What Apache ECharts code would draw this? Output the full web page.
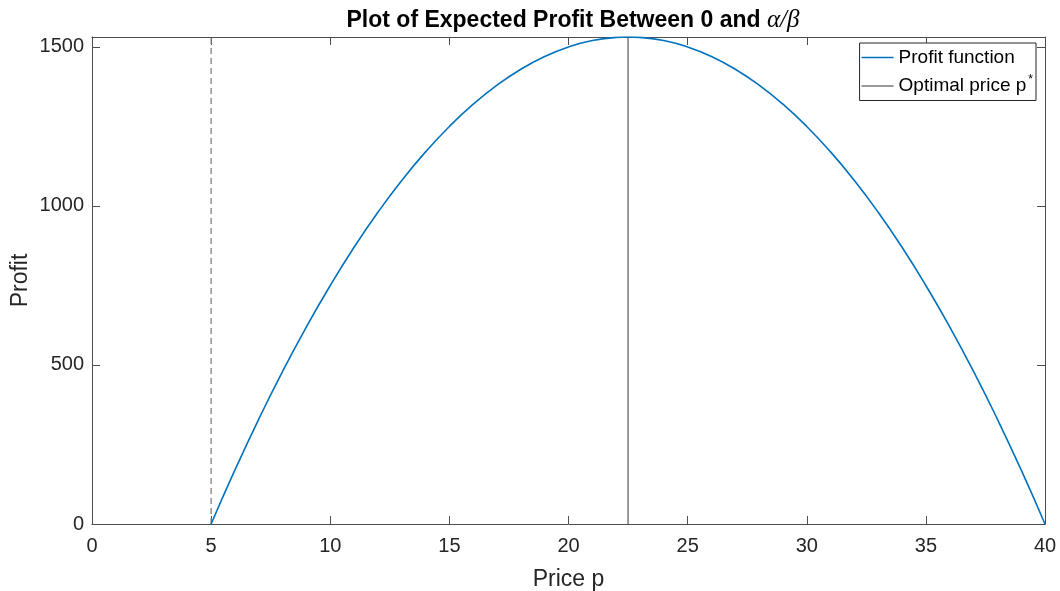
<!DOCTYPE html>
<html><head><meta charset="utf-8">
<script src="https://cdn.jsdelivr.net/npm/echarts@6/dist/echarts.min.js"></script>
<style>html,body{margin:0;padding:0;background:#fff}#c{width:1060px;height:591px}</style>
</head><body><div id="c"></div>
<script>
// Data
const prices  = [5,6,7,8,9,10,11,12,13,14,15,16,17,18,19,20,21,22,22.5,23,24,25,26,27,28,29,30,31,32,33,34,35,36,37,38,39,40];
const profits = [0,170,330,480,620,750,870,980,1080,1170,1250,1320,1380,1430,1470,1500,1520,1530,1531.25,1530,1520,1500,1470,1430,1380,1320,1250,1170,1080,980,870,750,620,480,330,170,0];
const optimalLineX = [22.5, 22.5];
const optimalLineY = [0, 1531.25];
const costLineX = [5, 5];
const costLineY = [0, 1531.25];
const xTicks = [0,5,10,15,20,25,30,35,40];
const yTicks = [0,500,1000,1500];
const seriesNames = ['Profit function', 'Optimal price p*'];

const FONT = '"Liberation Sans", Arial, Helvetica, sans-serif';
const AX = '#4d4d4d';
const TXT = '#262626';
const xMin = 0, xMax = 40, yMin = 0, yMax = 1531.25;

function axisBase(extra){
  return Object.assign({
    type:'value',
    axisLine:{show:true, onZero:false, lineStyle:{color:AX, width:1}},
    axisTick:{show:true, inside:true, length:8, lineStyle:{color:AX, width:1}},
    splitLine:{show:false}
  }, extra);
}

const chart = echarts.init(document.getElementById('c'), null, {renderer:'canvas'});
chart.setOption({
  animation:false,
  backgroundColor:'#fff',
  textStyle:{fontFamily:FONT},
  title:{
    text:'{b|Plot of Expected Profit Between 0 and }{m|α/β}',
    left:568, top:3, textAlign:'center',
    textStyle:{rich:{
      b:{fontFamily:FONT, fontWeight:'bold', fontSize:23, color:'#000'},
      m:{fontFamily:'"Liberation Serif","DejaVu Serif",serif', fontStyle:'italic', fontWeight:'normal', fontSize:25, color:'#000'}
    }}
  },
  grid:{left:92, right:15, top:37, bottom:67, containLabel:false, outerBoundsMode:'none'},
  legend:{
    orient:'vertical', right:24, top:43,
    data:seriesNames,
    icon:'rect', itemWidth:32, itemHeight:1.5, itemGap:7,
    padding:[5,3,5,2],
    borderColor:'#262626', borderWidth:1, backgroundColor:'#fff',
    formatter: n => n === 'Optimal price p*' ? '{t|Optimal price p}{s|*}' : '{t|' + n + '}',
    textStyle:{rich:{
      t:{fontFamily:FONT, fontSize:19, color:'#000', height:22},
      s:{fontFamily:FONT, fontSize:12, color:'#000', verticalAlign:'top', padding:[0,0,12,2]}
    }}
  },
  xAxis:[
    axisBase({min:xMin, max:xMax, interval:5, position:'bottom',
      name:'Price p', nameLocation:'middle', nameGap:44, nameMoveOverlap:false,
      nameTextStyle:{fontFamily:FONT, fontSize:23, color:TXT},
      axisLabel:{fontFamily:FONT, fontSize:20, color:TXT, margin:12}}),
    axisBase({min:xMin, max:xMax, interval:5, position:'top', axisLabel:{show:false}})
  ],
  yAxis:[
    axisBase({min:yMin, max:yMax, interval:500, position:'left',
      name:'Profit', nameLocation:'middle', nameGap:60, nameMoveOverlap:false,
      nameTextStyle:{fontFamily:FONT, fontSize:23, color:TXT},
      axisLabel:{fontFamily:FONT, fontSize:20, color:TXT, margin:8, showMaxLabel:false,
        formatter: v => yTicks.includes(v) ? String(v) : ''}}),
    axisBase({min:yMin, max:yMax, interval:500, position:'right', axisLabel:{show:false}})
  ],
  series:[
    {name:seriesNames[0], type:'line', symbol:'none', smooth:true, xAxisIndex:0, yAxisIndex:0,
     data:prices.map((p,i)=>[p, profits[i]]),
     lineStyle:{color:'#0072BD', width:1.6}, itemStyle:{color:'#0072BD'}, z:3},
    {name:seriesNames[1], type:'line', symbol:'none',
     data:optimalLineX.map((x,i)=>[x, optimalLineY[i]]),
     lineStyle:{color:'#555555', width:1.2}, itemStyle:{color:'#777777'}, z:2},
    {name:'cost', type:'line', symbol:'none',
     data:costLineX.map((x,i)=>[x, costLineY[i]]),
     lineStyle:{color:'#808080', width:1.3, type:[6,4]}, itemStyle:{color:'#808080'}, z:2}
  ]
});
</script>
</body></html>
